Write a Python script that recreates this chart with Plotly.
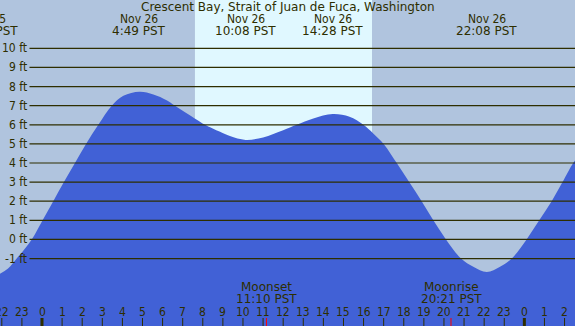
import plotly.graph_objects as go

# ---------------- data ----------------
# tide curve: hours since Nov 26 00:00 PST, height in ft
tide_hours = [-2.3, -1.69, -1.26, -0.51, 0.03, 0.56, 1.09, 1.64, 2.19, 2.80, 3.47, 4.05,
              4.85, 5.54, 6.2, 6.62, 7.86, 8.11, 8.86, 9.35, 10.13, 11.0, 12.0, 12.67,
              13.5, 14.47, 15.3, 15.99, 16.48, 17.0, 17.65, 18.27, 18.89, 19.47, 20.1,
              20.85, 21.46, 22.13, 22.79, 23.37, 24.11, 24.74, 25.36, 25.9, 26.43, 26.7]
tide_ft = [-1.92, -1.52, -1.0, 0.0, 1.0, 2.0, 3.0, 4.0, 5.0, 6.0, 7.0, 7.52,
           7.73, 7.59, 7.29, 7.0, 6.16, 6.0, 5.63, 5.41, 5.21, 5.34, 5.72, 6.0,
           6.33, 6.56, 6.42, 6.0, 5.55, 5.0, 4.0, 3.0, 2.0, 1.0, 0.0,
           -1.0, -1.43, -1.70, -1.43, -1.0, 0.0, 1.0, 2.0, 3.0, 4.0, 4.35]

# tide extremes (labels at top)
event_hours = [-2.72, 4.82, 10.13, 14.47, 22.13]
event_dates = ["Nov 25", "Nov 26", "Nov 26", "Nov 26", "Nov 26"]
event_times = ["21:17 PST", "4:49 PST", "10:08 PST", "14:28 PST", "22:08 PST"]

# daylight
sunrise_h = 7.61
sunset_h = 16.42

# moon
moon_hours = [11.167, 20.35]
moon_names = ["Moonset", "Moonrise"]
moon_times = ["11:10 PST", "20:21 PST"]

# axes
y_ticks = [-1, 0, 1, 2, 3, 4, 5, 6, 7, 8, 9, 10]
y_tick_labels = [f"{v} ft" for v in y_ticks]
hour_ticks = list(range(-2, 27))
hour_labels = [str(h % 24) for h in hour_ticks]
midnights = [0, 24]

title_text = "Crescent Bay, Strait of Juan de Fuca, Washington"

# ---------------- style ----------------
W, H = 575, 326
XMIN, XMAX = -2.09, 26.52
YMIN, YMAX = -4.53, 12.53
NIGHT = "#b0c4de"
DAY = "#e0f8ff"
WATER = "#4161d6"
INK = "#2e2e00"
FONT = dict(family="DejaVu Sans, sans-serif", size=12, color=INK)
FONT_C = dict(family="DejaVu Sans Condensed, DejaVu Sans, sans-serif", size=12, color=INK)


def py(px):
    return 1 - px / H


def xpaper(h):
    return (h - XMIN) / (XMAX - XMIN)


fig = go.Figure()
fig.add_trace(go.Scatter(x=[tide_hours[0], tide_hours[-1]], y=[YMIN - 1, YMIN - 1],
                         mode="lines", line=dict(width=0, color=WATER),
                         hoverinfo="skip", showlegend=False))
fig.add_trace(go.Scatter(x=tide_hours, y=tide_ft, mode="lines",
                         line=dict(width=0, color=WATER, shape="spline", smoothing=1.0),
                         fill="tonexty", fillcolor=WATER, showlegend=False))

shapes = []
# daylight band
shapes.append(dict(type="rect", xref="x", yref="paper", x0=sunrise_h, x1=sunset_h,
                   y0=0, y1=1, fillcolor=DAY, line=dict(width=0), layer="below"))
# gridlines
for v in y_ticks:
    shapes.append(dict(type="line", xref="paper", yref="y", x0=29.5 / W, x1=1,
                       y0=v, y1=v, line=dict(color=INK, width=1.2), layer="above"))
# hour ticks
for h in hour_ticks:
    w = 3 if h in midnights else 1
    shapes.append(dict(type="line", xref="x", yref="paper", x0=h, x1=h,
                       y0=0, y1=8 / H, line=dict(color=INK, width=w), layer="above"))
for h in moon_hours:
    shapes.append(dict(type="line", xref="x", yref="paper", x0=h, x1=h,
                       y0=0, y1=8 / H, line=dict(color="#ff0000", width=1), layer="above"))

ann = []
ann.append(dict(text=title_text, xref="paper", yref="paper", x=0.5, y=py(7),
                showarrow=False, font=FONT, xanchor="center", yanchor="middle"))
for h, d, t in zip(event_hours, event_dates, event_times):
    ann.append(dict(text=d, xref="paper", yref="paper", x=xpaper(h), y=py(19.5),
                    showarrow=False, font=FONT_C, xanchor="center", yanchor="middle", borderpad=0))
    ann.append(dict(text=t, xref="paper", yref="paper", x=xpaper(h), y=py(31.3),
                    showarrow=False, font=FONT, xanchor="center", yanchor="middle", borderpad=0))
for v, lab in zip(y_ticks, y_tick_labels):
    ann.append(dict(text=lab, xref="paper", yref="y", x=27.5 / W, y=v,
                    showarrow=False, font=FONT_C, xanchor="right", yanchor="middle", borderpad=0))
for h, lab in zip(hour_ticks, hour_labels):
    ann.append(dict(text=lab, xref="paper", yref="paper", x=xpaper(h), y=py(311.5),
                    showarrow=False, font=FONT_C, xanchor="center", yanchor="middle", borderpad=0))
for h, n, t in zip(moon_hours, moon_names, moon_times):
    ann.append(dict(text=n, xref="x", yref="paper", x=h, y=py(287.3),
                    showarrow=False, font=FONT, xanchor="center", yanchor="middle", borderpad=0))
    ann.append(dict(text=t, xref="x", yref="paper", x=h, y=py(299.3),
                    showarrow=False, font=FONT, xanchor="center", yanchor="middle", borderpad=0))

fig.update_layout(
    width=W, height=H, margin=dict(l=0, r=0, t=0, b=0),
    paper_bgcolor=NIGHT, plot_bgcolor=NIGHT,
    xaxis=dict(range=[XMIN, XMAX], visible=False, fixedrange=True),
    yaxis=dict(range=[YMIN, YMAX], visible=False, fixedrange=True),
    shapes=shapes, annotations=ann, showlegend=False,
)
fig.write_html("out.html", config={"displayModeBar": False},
               post_script="document.body.style.margin='0';document.body.style.overflow='hidden';")
